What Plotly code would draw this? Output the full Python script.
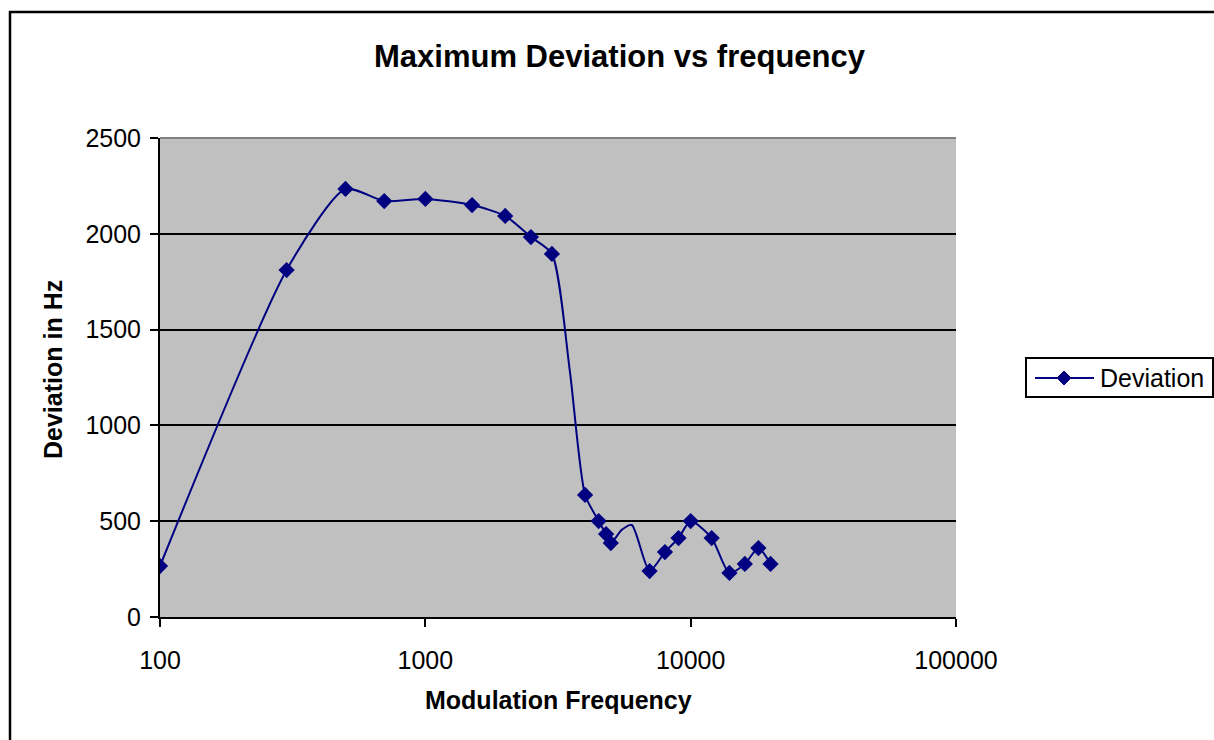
import plotly.graph_objects as go

# Marker points
freq = [100, 300, 500, 700, 1000, 1500, 2000, 2500, 3000, 4000, 4500, 4800, 5000,
        7000, 8000, 9000, 10000, 12000, 14000, 16000, 18000, 20000]
deviation = [266, 1811, 2234, 2171, 2182, 2150, 2093, 1983, 1895, 637, 501, 433, 386,
             240, 339, 412, 501, 412, 230, 277, 360, 277]

# Additional points the smoothed line passes through (no markers)
line_extra_freq = [3500, 5500, 6000]
line_extra_dev = [1290, 455, 480]

x_ticks = [100, 1000, 10000, 100000]
x_tick_labels = ["100", "1000", "10000", "100000"]
y_ticks = [0, 500, 1000, 1500, 2000, 2500]
series_name = "Deviation"

line_pts = sorted(zip(freq + line_extra_freq, deviation + line_extra_dev))
line_x = [p[0] for p in line_pts]
line_y = [p[1] for p in line_pts]

NAVY = "#000080"
FONT = "Liberation Sans, Arial, sans-serif"

# plot area in pixels
L, R, T, B = 160, 956, 138, 617
def px(x):
    return (x - L) / (R - L)
def py(y):
    return (B - y) / (B - T)

fig = go.Figure()
fig.add_trace(go.Scatter(x=line_x, y=line_y, mode="lines",
                         line=dict(color=NAVY, width=2, shape="spline", smoothing=0.65),
                         showlegend=False, hoverinfo="skip"))
fig.add_trace(go.Scatter(x=freq, y=deviation, mode="markers", name=series_name,
                         marker=dict(symbol="diamond", size=12.5, color=NAVY),
                         showlegend=False))

# legend drawn manually to match Excel look
lcy = 378
dx, dy = 7 / (R - L), 7 / (B - T)
cx, cy = px(1064), py(lcy)
diamond = f"M {cx-dx},{cy} L {cx},{cy+dy} L {cx+dx},{cy} L {cx},{cy-dy} Z"

fig.update_layout(
    width=1214, height=740,
    margin=dict(l=L, r=1214 - R, t=T, b=740 - B, autoexpand=False),
    paper_bgcolor="white",
    plot_bgcolor="#C0C0C0",
    font=dict(family=FONT, size=25, color="black"),
    showlegend=False,
    xaxis=dict(type="log", range=[2, 5], tickvals=x_ticks, ticktext=x_tick_labels,
               showgrid=False, zeroline=False, showline=True, linecolor="black",
               linewidth=2, ticks="outside", ticklen=8, tickwidth=2, tickcolor="black",
               tickfont=dict(size=25), ticklabelstandoff=12),
    yaxis=dict(range=[0, 2500], tickvals=y_ticks, showgrid=True, gridcolor="black",
               gridwidth=2, zeroline=False, showline=True, linecolor="black",
               linewidth=2, ticks="outside", ticklen=8, tickwidth=2, tickcolor="black",
               tickfont=dict(size=25), ticklabelstandoff=4),
    annotations=[
        dict(text="<b>Maximum Deviation vs frequency</b>", xref="paper", yref="paper",
             x=px(620), y=py(56), xanchor="center", yanchor="middle", showarrow=False,
             font=dict(size=31)),
        dict(text="<b>Modulation Frequency</b>", xref="paper", yref="paper",
             x=px(558), y=py(700), xanchor="center", yanchor="middle", showarrow=False,
             font=dict(size=25)),
        dict(text="<b>Deviation in Hz</b>", xref="paper", yref="paper",
             x=px(53), y=py(370), xanchor="center", yanchor="middle", showarrow=False,
             textangle=-90, font=dict(size=25)),
        dict(text=series_name, xref="paper", yref="paper",
             x=px(1098), y=py(lcy), xanchor="left", yanchor="middle", showarrow=False,
             font=dict(size=25)),
    ],
    shapes=[
        dict(type="line", xref="paper", yref="paper", x0=0, x1=1, y0=1, y1=1,
             line=dict(color="#808080", width=2), layer="above"),
        dict(type="rect", xref="paper", yref="paper", x0=px(10), x1=px(1240),
             y0=py(760), y1=py(12), line=dict(color="black", width=2.5),
             fillcolor="rgba(0,0,0,0)", layer="below"),
        dict(type="rect", xref="paper", yref="paper", x0=px(1026), x1=px(1213),
             y0=py(397), y1=py(358), line=dict(color="black", width=2),
             fillcolor="white"),
        dict(type="line", xref="paper", yref="paper", x0=px(1035), x1=px(1094),
             y0=py(lcy), y1=py(lcy), line=dict(color=NAVY, width=2)),
        dict(type="path", xref="paper", yref="paper", path=diamond,
             fillcolor=NAVY, line=dict(color=NAVY, width=1)),
    ],
)

fig.write_html("out.html")
